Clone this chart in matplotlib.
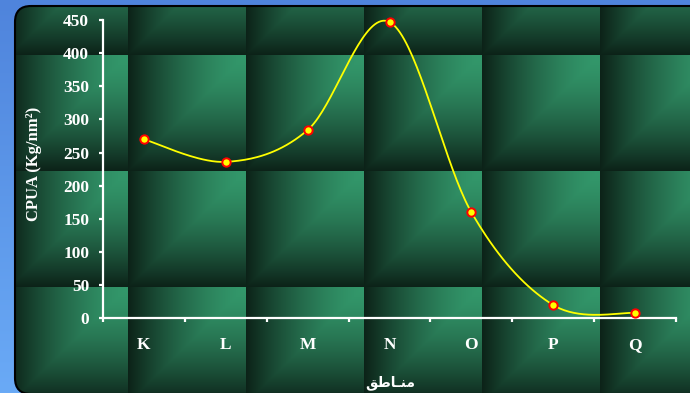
import numpy as np
import matplotlib
matplotlib.use('Agg')
import matplotlib.pyplot as plt
from matplotlib.patches import FancyBboxPatch

# ---------------- data ----------------
categories = ['K', 'L', 'M', 'N', 'O', 'P', 'Q']
cpua = [270, 236, 284, 447, 160, 20, 8]
y_ticks = [0, 50, 100, 150, 200, 250, 300, 350, 400, 450]
y_label = 'CPUA (Kg/nm\u00b2)'
# "مناطق" written with Arabic presentation forms in visual order
x_label = '\uFED6\uFEC3\uFE8E\u0640\uFEE8\uFEE3'

W, H = 690, 393
fig = plt.figure(figsize=(6.9, 3.93), dpi=100)

# ---------------- background ----------------
bg = fig.add_axes([0, 0, 1, 1])
bg.set_xlim(0, W)
bg.set_ylim(H, 0)
bg.axis('off')

t = np.linspace(0, 1, H)[:, None, None]
top_c = np.array([79, 132, 220]) / 255
bot_c = np.array([106, 170, 246]) / 255
blue = top_c + (bot_c - top_c) * t
blue = np.repeat(blue, W, axis=1)
bg.imshow(blue, extent=(0, W, H, 0), aspect='auto', interpolation='bilinear', zorder=0)

px = np.arange(W) + 0.5
py = np.arange(H) + 0.5
X, Y = np.meshgrid(px, py)
u = ((X - 10) % 118) / 118
v = ((Y - 55) % 116) / 116
d = np.maximum(1 - u, v)
f = 1 - d ** 1.5
bright = np.array([51, 152, 107]) / 255
dark = np.array([12, 34, 24]) / 255
tex = dark + (bright - dark) * f[..., None]
im = bg.imshow(tex, extent=(0, W, H, 0), aspect='auto', interpolation='nearest', zorder=1)

frame = FancyBboxPatch((15, 6), 740, 388, boxstyle='round,pad=0,rounding_size=16',
                       transform=bg.transData, facecolor='none', edgecolor='black',
                       lw=1.5, zorder=2)
bg.add_patch(frame)
im.set_clip_path(frame)

# ---------------- main axes ----------------
ax = fig.add_axes([103 / W, (H - 318.3) / H, 573 / W, 298.3 / H])
ax.patch.set_alpha(0)

xs = np.arange(len(categories), dtype=float)
ys = np.array(cpua, dtype=float)

# Smoothed line (Catmull-Rom Bezier, like Excel's smoothed line)
P = np.column_stack([xs, ys])
Pext = np.vstack([P[0], P, P[-1]])
curve = []
s = np.linspace(0, 1, 40)[:, None]
for i in range(len(P) - 1):
    p0, p1, p2, p3 = Pext[i], Pext[i + 1], Pext[i + 2], Pext[i + 3]
    c1 = p1 + (p2 - p0) / 6
    c2 = p2 - (p3 - p1) / 6
    seg = ((1 - s) ** 3) * p1 + 3 * ((1 - s) ** 2) * s * c1 + 3 * (1 - s) * s ** 2 * c2 + s ** 3 * p2
    curve.append(seg)
curve = np.vstack(curve)
ax.plot(curve[:, 0], curve[:, 1], color='#ffff00', lw=1.3, zorder=3, clip_on=False)
ax.plot(xs, ys, linestyle='none', marker='o', markersize=6, markerfacecolor='#ffff00',
        markeredgecolor='#ff0000', markeredgewidth=1.4, zorder=4, clip_on=False)

ax.set_xlim(-0.5, len(categories) - 0.5)
ax.set_ylim(0, 450)

for side in ['top', 'right']:
    ax.spines[side].set_visible(False)
for side in ['left', 'bottom']:
    ax.spines[side].set_color('white')
    ax.spines[side].set_linewidth(1.6)

tick_font = dict(family='Liberation Serif', weight='bold', size=12.5, color='white')

ax.set_yticks(y_ticks)
ax.set_yticklabels([str(v) for v in y_ticks], fontdict=tick_font)
ax.tick_params(axis='y', direction='out', length=3, width=1.6, color='white', pad=7)

ax.set_xticks(np.arange(-0.5, len(categories), 1.0))
ax.set_xticklabels([])
ax.set_xticks(xs, minor=True)
ax.set_xticklabels(categories, minor=True, fontdict=tick_font)
ax.tick_params(axis='x', which='major', direction='out', length=3, width=1.6, color='white')
ax.tick_params(axis='x', which='minor', length=0, pad=13.5)

fig.text(34 / W, 1 - 164 / H, y_label, rotation=90, ha='center', va='center',
         family='Liberation Serif', weight='bold', size=12, color='white')
fig.text(390 / W, 1 - 383 / H, x_label, ha='center', va='center',
         family='DejaVu Sans', weight='bold', size=10, color='white')

fig.savefig('out.png', dpi=100)
